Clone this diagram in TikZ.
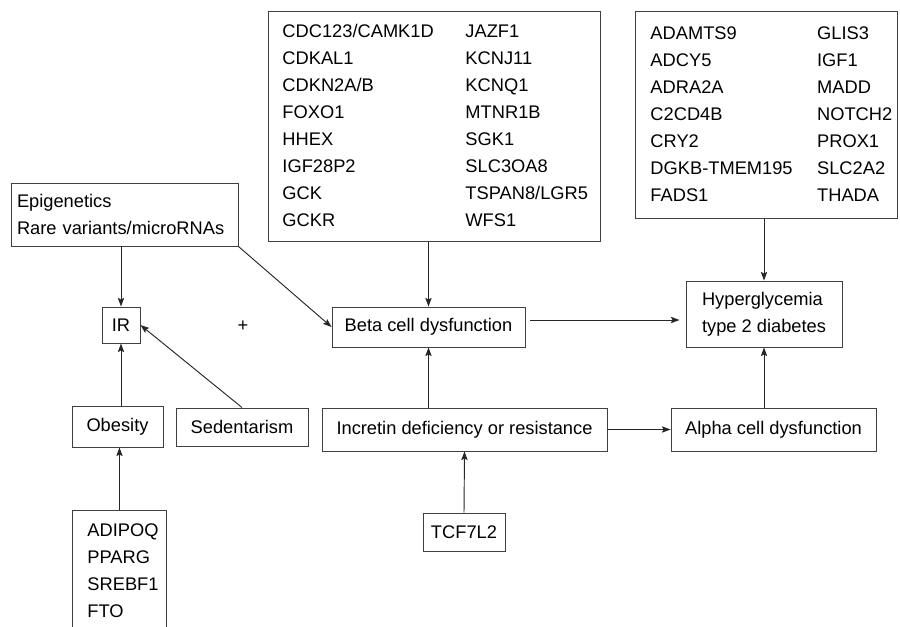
\documentclass[tikz,border=0pt]{standalone}
\usepackage{fontspec}
\setsansfont{Liberation Sans}
\usetikzlibrary{arrows.meta}
\hyphenpenalty=10000

\begin{document}
\begin{tikzpicture}[font=\sffamily\fontsize{15.6}{23.05}\selectfont,arrow/.style={-{Stealth[length=0.26cm,width=0.19cm,inset=0.05cm]},line width=0.8pt,draw=black!85},box/.style={draw=black!75,line width=0.8pt,inner sep=0pt,align=center},genebox/.style={draw=black!75,line width=0.8pt,anchor=north west,align=left,inner ysep=0pt}]
\useasboundingbox (0,0) rectangle (27,18.78);
\clip (0,0) rectangle (27,18.78);
% gene boxes
\node[genebox,inner xsep=0.42cm,text width=9.12cm,minimum height=6.9cm] (betagenes) at (8.04,18.45) {\begin{tabular}{@{}p{5.49cm}@{}l@{}}
CDC123/CAMK1D & JAZF1\\ CDKAL1 & KCNJ11\\ CDKN2A/B & KCNQ1\\ FOXO1 & MTNR1B\\
HHEX & SGK1\\ IGF28P2 & SLC3OA8\\ GCK & TSPAN8/LGR5\\ GCKR & WFS1
\end{tabular}};
\node[genebox,inner xsep=0.45cm,text width=6.96cm,minimum height=6.21cm] (hypergenes) at (19.05,18.45) {\begin{tabular}{@{}p{5.0cm}@{}l@{}}
ADAMTS9 & GLIS3\\ ADCY5 & IGF1\\ ADRA2A & MADD\\ C2CD4B & NOTCH2\\
CRY2 & PROX1\\ DGKB-TMEM195 & SLC2A2\\ FADS1 & THADA
\end{tabular}};
\node[genebox,inner xsep=0.45cm,inner ysep=0.4cm,text width=1.92cm] (obesitygenes) at (2.16,3.48) {ADIPOQ\\ PPARG\\ SREBF1\\ FTO};
% boxes
\node[box,align=left,inner xsep=0.18cm,text width=6.45cm,minimum height=1.89cm] (epi) at (3.735,12.345) {Epigenetics\\ Rare variants/microRNAs};
\node[box,minimum width=1.14cm,minimum height=1.08cm] (ir) at (3.63,9.03) {IR};
\node (plus) at (7.29,9.0) {+};
\node[box,minimum width=5.79cm,minimum height=1.2cm] (beta) at (12.855,8.97) {Beta cell dysfunction};
\node[box,align=left,minimum width=4.68cm,minimum height=1.98cm] (hyper) at (22.92,9.36) {Hyperglycemia\\ type 2 diabetes};
\node[box,minimum width=8.55cm,minimum height=1.29cm] (incretin) at (13.935,5.895) {Incretin deficiency or resistance};
\node[box,minimum width=6.15cm,minimum height=1.29cm] (alpha) at (23.205,5.895) {Alpha cell dysfunction};
\node[box,minimum width=2.46cm,minimum height=1.14cm] (tcf) at (13.92,2.82) {TCF7L2};
\node[box,minimum width=2.73cm,minimum height=1.23cm] (obesity) at (3.525,5.985) {Obesity};
\node[box,minimum width=3.96cm,minimum height=1.14cm] (sedentarism) at (7.26,5.97) {Sedentarism};
% arrows
\draw[arrow] (epi.south -| ir.north) -- (ir.north);
\draw[arrow] (epi.south east) -- (beta.west);
\draw[arrow] (betagenes.south -| beta.north) -- (beta.north);
\draw[arrow] (hypergenes.south -| hyper.north) -- (hyper.north);
\draw[arrow,shorten <=0.15cm,shorten >=0.18cm] ([yshift=0.21cm]beta.east) -- ([yshift=0.21cm]beta.east -| hyper.west);
\draw[arrow] (incretin.north -| beta.south) -- (beta.south);
\draw[arrow] (incretin.east) -- (alpha.west);
\draw[arrow] (alpha.north -| hyper.south) -- (hyper.south);
\draw[arrow] (tcf.north) -- (incretin.south);
\draw[arrow] (obesity.north -| ir.south) -- (ir.south);
\draw[arrow] (sedentarism.north) -- (ir.east);
\draw[arrow] (obesitygenes.north) -- (obesitygenes.north |- obesity.south);
\end{tikzpicture}
\end{document}
